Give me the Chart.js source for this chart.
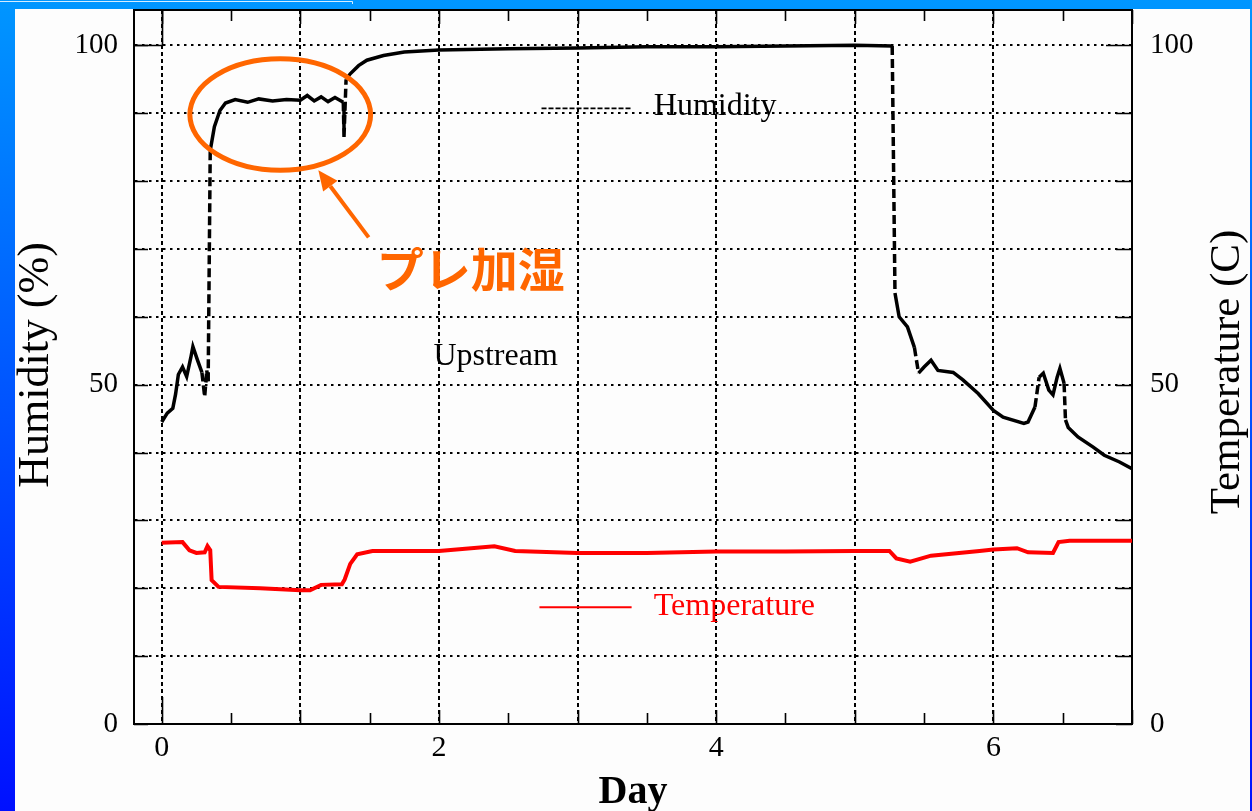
<!DOCTYPE html>
<html>
<head>
<meta charset="utf-8">
<title>Upstream humidity and temperature</title>
<style>
  html, body { margin: 0; padding: 0; overflow: hidden; background: #fff; }
  canvas { display: block; }
</style>
<script src="https://cdn.jsdelivr.net/npm/chart.js@4.4.1/dist/chart.umd.min.js"></script>
</head>
<body>
<canvas id="chart" width="1252" height="811"></canvas>
<script>
// Upstream humidity (%) over elapsed days
const humidityDay = [0.00, 0.04, 0.08, 0.10, 0.12, 0.15, 0.18, 0.21, 0.225, 0.26, 0.29, 0.31, 0.325, 0.335,
  0.35, 0.38, 0.42, 0.46, 0.53, 0.62, 0.70, 0.80, 0.90, 1.00, 1.05, 1.10, 1.15, 1.20, 1.25, 1.31, 1.315,
  1.33, 1.36, 1.42, 1.48, 1.60, 1.75, 2.00, 2.50, 3.00, 3.50, 4.00, 4.50, 5.00, 5.27,
  5.29, 5.32, 5.38, 5.43, 5.46, 5.50, 5.55, 5.60, 5.71, 5.78, 5.89, 6.00, 6.07, 6.22, 6.25,
  6.30, 6.33, 6.36, 6.40, 6.43, 6.46, 6.48, 6.51, 6.52, 6.54, 6.61, 6.72, 6.80, 6.91, 7.00];
const humidity = [44.5, 45.8, 46.5, 48.6, 51.5, 52.6, 51.2, 54.0, 55.6, 53.5, 51.8, 48.2, 52.1, 50.5,
  84.5, 88.0, 90.4, 91.5, 92.0, 91.6, 92.1, 91.8, 92.0, 91.9, 92.6, 91.8, 92.4, 91.7, 92.3, 91.6, 86.5,
  95.0, 95.8, 97.0, 97.8, 98.5, 99.0, 99.3, 99.5, 99.6, 99.8, 99.8, 99.9, 100.0, 99.9,
  63.5, 60.0, 58.5, 55.5, 51.7, 52.6, 53.6, 52.1, 51.8, 50.7, 48.7, 46.2, 45.2, 44.3, 44.5,
  46.7, 51.1, 51.7, 49.2, 48.5, 51.1, 52.4, 50.2, 44.8, 43.7, 42.3, 40.8, 39.6, 38.6, 37.6];

// Upstream temperature (C) over elapsed days
const temperatureDay = [0.00, 0.15, 0.20, 0.25, 0.31, 0.33, 0.35, 0.36, 0.41, 0.71, 1.00, 1.07, 1.15, 1.30,
  1.32, 1.36, 1.41, 1.52, 2.00, 2.40, 2.55, 3.00, 3.50, 4.00, 4.50, 5.00, 5.25, 5.30, 5.40, 5.55,
  5.90, 6.00, 6.17, 6.25, 6.43, 6.47, 6.55, 7.00];
const temperature = [26.7, 26.8, 25.6, 25.2, 25.3, 26.2, 25.6, 21.2, 20.2, 20.0, 19.7, 19.7, 20.5, 20.6,
  21.3, 23.6, 25.0, 25.5, 25.5, 26.2, 25.5, 25.2, 25.2, 25.4, 25.4, 25.5, 25.5, 24.4, 23.9, 24.8,
  25.5, 25.7, 25.9, 25.3, 25.2, 26.8, 27.0, 27.0];

// Axis ticks
const dayTicks = [0, 1, 2, 3, 4, 5, 6, 7];
const dayLabels = [0, 2, 4, 6];
const percentTicks = [0, 10, 20, 30, 40, 50, 60, 70, 80, 90, 100];
const percentLabels = [0, 50, 100];

const SERIF = "'Liberation Serif', 'DejaVu Serif', serif";
const ORANGE = '#ff6600';

const humidityPoints = humidityDay.map((d, i) => ({ x: d, y: humidity[i] }));
const temperaturePoints = temperatureDay.map((d, i) => ({ x: d, y: temperature[i] }));

// Steep stretches of the humidity trace are drawn broken
const steepDash = c => (Math.abs(c.p1.y - c.p0.y) > 3 * Math.abs(c.p1.x - c.p0.x) + 12) ? [9, 4] : undefined;

const backdrop = {
  id: 'backdrop',
  beforeDraw(chart) {
    const { ctx, width, height } = chart;
    ctx.save();
    const g = ctx.createLinearGradient(0, 0, 0, height);
    g.addColorStop(0, 'rgb(0,150,255)');
    g.addColorStop(1, 'rgb(0,16,255)');
    ctx.fillStyle = g;
    ctx.fillRect(0, 0, width, height);
    ctx.fillStyle = '#fdfdfd';
    ctx.fillRect(15, 9, width - 17, height - 9);
    ctx.strokeStyle = 'rgba(235,245,255,0.9)';
    ctx.lineWidth = 1;
    ctx.beginPath();
    ctx.moveTo(0, 1.5); ctx.lineTo(352.5, 1.5); ctx.lineTo(352.5, 4);
    ctx.stroke();
    ctx.restore();
  }
};

const frame = {
  id: 'frame',
  afterDatasetsDraw(chart) {
    const { ctx, chartArea: a, scales } = chart;
    const xs = scales.x, ys = scales.y;
    ctx.save();
    ctx.strokeStyle = '#000';
    ctx.lineWidth = 2;
    // top edge of the frame
    ctx.beginPath();
    ctx.moveTo(a.left, a.top); ctx.lineTo(a.right + 1, a.top);
    ctx.stroke();
    // day ticks on top and bottom edges
    ctx.lineWidth = 1.6;
    for (let d = 0; d <= 7; d += 0.5) {
      const px = Math.round(xs.getPixelForValue(d)) + 0.5;
      const len = Number.isInteger(d) ? 14 : 11;
      ctx.beginPath();
      ctx.moveTo(px, a.bottom); ctx.lineTo(px, a.bottom - (d === 0 ? 27 : len));
      ctx.moveTo(px, a.top); ctx.lineTo(px, a.top + len);
      ctx.stroke();
    }
    // inward percent ticks on both vertical edges
    percentTicks.forEach(v => {
      const py = Math.round(ys.getPixelForValue(v)) + 0.5;
      ctx.beginPath();
      ctx.moveTo(a.left, py); ctx.lineTo(a.left + 14, py);
      ctx.moveTo(a.right, py); ctx.lineTo(a.right - (v === 100 ? 26 : 16), py);
      ctx.stroke();
    });
    // corner box at the start of day 0
    const x0 = Math.round(xs.getPixelForValue(0)) + 0.5;
    const y100 = Math.round(ys.getPixelForValue(100)) + 0.5;
    ctx.beginPath();
    ctx.moveTo(x0, a.top); ctx.lineTo(x0, y100); ctx.lineTo(a.left, y100);
    ctx.stroke();
    ctx.restore();
  },
  afterDraw(chart) {
    const { ctx, chartArea: a, scales } = chart;
    const xs = scales.x, ys = scales.y;
    const X = v => xs.getPixelForValue(v);
    const Y = v => ys.getPixelForValue(v);
    ctx.save();

    // axis titles
    ctx.fillStyle = '#000';
    ctx.textAlign = 'center';
    ctx.textBaseline = 'middle';
    ctx.font = `44px ${SERIF}`;
    ctx.save();
    ctx.translate(36, (a.top + a.bottom) / 2 - 2);
    ctx.rotate(-Math.PI / 2);
    ctx.fillText('Humidity (%)', 0, 0);
    ctx.restore();
    ctx.font = `43px ${SERIF}`;
    ctx.save();
    ctx.translate(1228, (a.top + a.bottom) / 2 + 5);
    ctx.rotate(-Math.PI / 2);
    ctx.fillText('Temperature (C)', 0, 0);
    ctx.restore();
    ctx.font = `bold 40px ${SERIF}`;
    ctx.textBaseline = 'alphabetic';
    ctx.fillText('Day', (a.left + a.right) / 2 + 0, 803);

    // in-plot series labels
    ctx.textAlign = 'left';
    ctx.textBaseline = 'middle';
    ctx.font = `32px ${SERIF}`;
    ctx.strokeStyle = '#000';
    ctx.lineWidth = 1.6;
    ctx.setLineDash([5, 2]);
    ctx.beginPath();
    ctx.moveTo(X(2.74), Y(90.7)); ctx.lineTo(X(3.39), Y(90.7));
    ctx.stroke();
    ctx.setLineDash([]);
    ctx.fillText('Humidity', X(3.55), Y(90.9));
    ctx.fillText('Upstream', X(1.96), Y(54.1));
    ctx.strokeStyle = '#ff0000';
    ctx.fillStyle = '#ff0000';
    ctx.lineWidth = 2;
    ctx.beginPath();
    ctx.moveTo(X(2.725), Y(17.2)); ctx.lineTo(X(3.39), Y(17.2));
    ctx.stroke();
    ctx.fillText('Temperature', X(3.55), Y(17.3));

    // pre-humidification callout
    ctx.strokeStyle = ORANGE;
    ctx.fillStyle = ORANGE;
    ctx.lineWidth = 5;
    const cx = X(0.855), cy = Y(89.8);
    const rx = X(0.855 + 0.652) - cx, ry = Y(89.8) - Y(98.0);
    ctx.beginPath();
    ctx.ellipse(cx, cy, rx, ry, 0, 0, Math.PI * 2);
    ctx.stroke();
    const tx = X(1.13), ty = Y(81.6);
    const sx = X(1.493), sy = Y(71.7);
    const ang = Math.atan2(ty - sy, tx - sx);
    const head = 20, half = 9;
    const bx = tx - head * Math.cos(ang), by = ty - head * Math.sin(ang);
    ctx.lineWidth = 4;
    ctx.beginPath();
    ctx.moveTo(sx, sy); ctx.lineTo(bx, by);
    ctx.stroke();
    ctx.beginPath();
    ctx.moveTo(tx, ty);
    ctx.lineTo(bx + half * Math.sin(ang), by - half * Math.cos(ang));
    ctx.lineTo(bx - half * Math.sin(ang), by + half * Math.cos(ang));
    ctx.closePath();
    ctx.fill();
    ctx.font = "bold 47px 'Noto Sans CJK JP', sans-serif";
    ctx.textAlign = 'center';
    ctx.fillText('プレ加湿', X(2.23), Y(67.0));
    ctx.restore();
  }
};

const tickFont = { family: SERIF, size: 29 };

// Fixed box sizes so the plot frame sits where the axes expect it
const fitX = s => { s.height = 87; s.paddingLeft = 0; s.paddingRight = 0; };
const fitY = w => s => { s.width = w; s.paddingTop = 0; s.paddingBottom = 0; };

new Chart(document.getElementById('chart'), {
  type: 'line',
  data: {
    datasets: [
      {
        label: 'Humidity',
        data: humidityPoints,
        yAxisID: 'y',
        borderColor: '#000',
        borderWidth: 3.5,
        pointRadius: 0,
        tension: 0,
        segment: { borderDash: steepDash }
      },
      {
        label: 'Temperature',
        data: temperaturePoints,
        yAxisID: 'yT',
        borderColor: '#ff0000',
        borderWidth: 4,
        pointRadius: 0,
        tension: 0
      }
    ]
  },
  options: {
    responsive: false,
    animation: false,
    devicePixelRatio: 1,
    layout: { padding: { top: 10, left: 0, right: 0, bottom: 0 } },
    plugins: { legend: { display: false }, tooltip: { enabled: false } },
    scales: {
      x: {
        type: 'linear',
        position: 'bottom',
        min: -0.2,
        max: 7,
        afterBuildTicks: s => { s.ticks = dayTicks.map(v => ({ value: v })); },
        afterFit: fitX,
        ticks: {
          autoSkip: false,
          maxRotation: 0,
          color: '#000',
          font: { family: SERIF, size: 30 },
          padding: 6,
          callback: v => dayLabels.includes(v) ? String(v) : ''
        },
        grid: { color: '#000', lineWidth: 2, drawTicks: false },
        border: { display: true, color: '#000', width: 2, dash: [4, 3] }
      },
      y: {
        position: 'left',
        min: 0,
        max: 105.2,
        afterBuildTicks: s => { s.ticks = percentTicks.map(v => ({ value: v })); },
        afterFit: fitY(134),
        ticks: {
          autoSkip: false,
          color: '#000',
          font: tickFont,
          padding: 16,
          callback: v => percentLabels.includes(v) ? String(v) : ''
        },
        grid: { color: '#000', lineWidth: 2, drawTicks: false },
        border: { display: true, color: '#000', width: 2, dash: [2.5, 4.5] }
      },
      yT: {
        position: 'right',
        min: 0,
        max: 105.2,
        afterBuildTicks: s => { s.ticks = percentTicks.map(v => ({ value: v })); },
        afterFit: fitY(120),
        ticks: {
          autoSkip: false,
          color: '#000',
          font: tickFont,
          padding: 18,
          callback: v => percentLabels.includes(v) ? String(v) : ''
        },
        grid: { drawOnChartArea: false, drawTicks: false },
        border: { display: true, color: '#000', width: 2 }
      }
    }
  },
  plugins: [backdrop, frame]
});
</script>
</body>
</html>
